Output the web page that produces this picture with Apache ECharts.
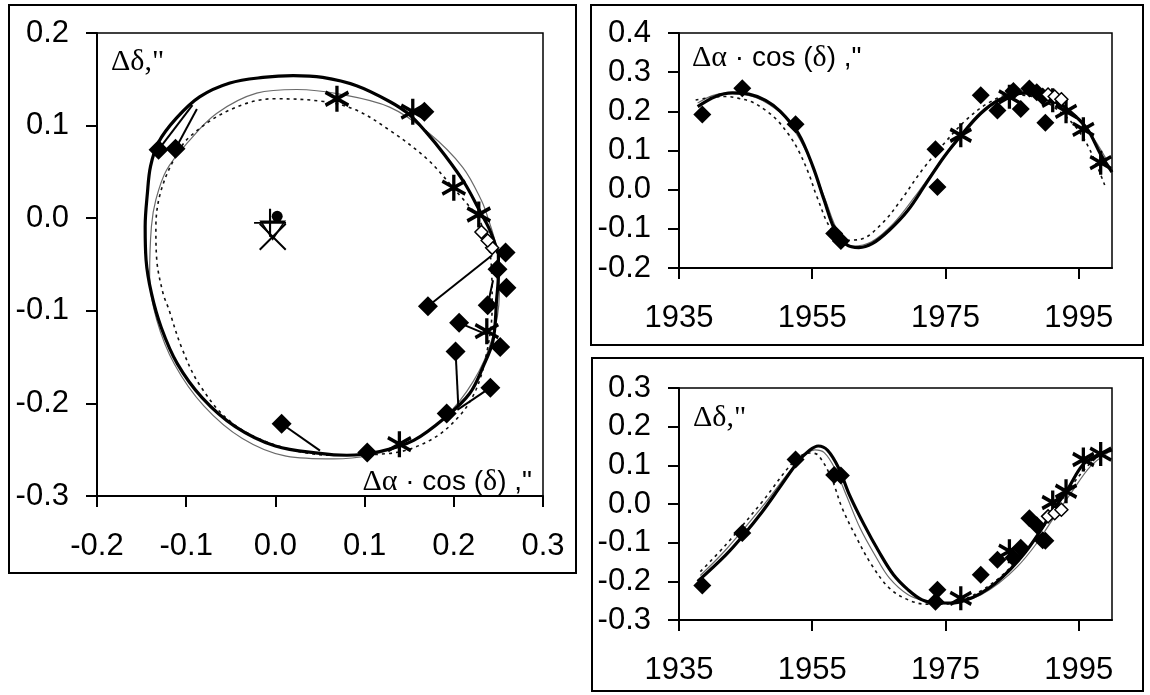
<!DOCTYPE html>
<html>
<head>
<meta charset="utf-8">
<script src="https://cdn.jsdelivr.net/npm/echarts@6/dist/echarts.min.js"></script>
<style>
  html, body { margin: 0; padding: 0; background: #fff; }
  #chart { width: 1150px; height: 695px; }
</style>
</head>
<body>
<div id="chart"></div>
<script>
// ---- Observations (epoch, Δα·cos δ, Δδ) in arcseconds ----
const obsYear = [1938.5, 1944.5, 1952.5, 1958.3, 1959.3, 1973.5, 1973.8, 1980.3, 1982.8, 1985.2, 1986.3, 1987.6, 1988.7, 1989.6, 1990.0];
const obsDA   = [0.192, 0.259, 0.167, -0.112, -0.131, 0.103, 0.007, 0.241, 0.202, 0.252, 0.206, 0.258, 0.249, 0.238, 0.171];
const obsDD   = [-0.211, -0.075, 0.115, 0.075, 0.074, -0.253, -0.222, -0.183, -0.144, -0.139, -0.113, -0.037, -0.055, -0.094, -0.095];
// ephemeris positions joined to the observations by O-C segments (null: none drawn)
const ephDA   = [null, null, null, -0.088, -0.093, null, 0.050, 0.204, 0.205, null, 0.238, null, null, 0.244, 0.243];
const ephDD   = [null, null, null, 0.118, 0.122, null, -0.251, -0.207, -0.202, null, -0.126, null, null, -0.067, -0.040];

// second observation set (asterisks)
const starYear = [1977.3, 1984.6, 1991.1, 1993.1, 1995.7, 1998.3];
const starDA   = [0.139, 0.237, 0.228, 0.200, 0.154, 0.069];
const starDD   = [-0.244, -0.122, 0.004, 0.033, 0.115, 0.129];

// third observation set (open diamonds)
const openYear = [1990.4, 1991.4, 1992.4];
const openDA   = [0.243, 0.238, 0.231];
const openDD   = [-0.032, -0.024, -0.015];

// markers at the origin of the relative orbit
const circleMark   = [0.002, 0.002];
const plusMark     = [-0.006, -0.005];
const triangleMark = [-0.003, -0.013];
const crossMark    = [-0.003, -0.020];

// ---- Apparent orbits (Δα·cos δ, Δδ) ----
const orbitThick = [[0.250,-0.038],[0.240,-0.012],[0.229,0.008],[0.212,0.038],[0.190,0.068],[0.168,0.094],[0.150,0.112],[0.128,0.126],[0.091,0.143],[0.053,0.152],[0.020,0.154],[-0.014,0.152],[-0.051,0.146],[-0.085,0.131],[-0.111,0.108],[-0.131,0.082],[-0.140,0.056],[-0.1435,0.027],[-0.146,-0.009],[-0.145,-0.045],[-0.139,-0.081],[-0.128,-0.118],[-0.110,-0.157],[-0.082,-0.194],[-0.045,-0.225],[0.000,-0.246],[0.050,-0.254],[0.080,-0.256],[0.117,-0.252],[0.155,-0.240],[0.192,-0.214],[0.218,-0.189],[0.233,-0.160],[0.244,-0.132],[0.248,-0.088],[0.250,-0.060],[0.250,-0.038]];
const orbitThin = [[0.239,-0.002],[0.231,0.019],[0.210,0.055],[0.172,0.092],[0.128,0.120],[0.072,0.134],[0.024,0.139],[-0.021,0.135],[-0.066,0.113],[-0.099,0.081],[-0.122,0.052],[-0.134,0.020],[-0.139,-0.009],[-0.141,-0.063],[-0.133,-0.110],[-0.113,-0.158],[-0.080,-0.203],[-0.037,-0.238],[0.012,-0.257],[0.065,-0.260],[0.106,-0.256],[0.148,-0.243],[0.189,-0.216],[0.222,-0.176],[0.243,-0.130],[0.251,-0.082],[0.249,-0.038],[0.239,-0.002]];
const orbitDotted = [[0.227,0.002],[0.201,0.031],[0.170,0.064],[0.128,0.095],[0.090,0.117],[0.054,0.126],[-0.002,0.129],[-0.051,0.117],[-0.096,0.088],[-0.114,0.063],[-0.129,0.027],[-0.134,-0.010],[-0.133,-0.045],[-0.126,-0.081],[-0.120,-0.097],[-0.105,-0.140],[-0.085,-0.180],[-0.050,-0.220],[0.000,-0.245],[0.065,-0.256],[0.128,-0.254],[0.173,-0.240],[0.205,-0.215],[0.225,-0.185],[0.238,-0.140],[0.243,-0.095],[0.242,-0.050],[0.236,-0.020],[0.227,0.002]];

// ---- Ephemerides against time ----
const daThick = [[1937.8,0.212],[1940.5,0.238],[1943,0.247],[1945.5,0.244],[1948,0.228],[1950.2,0.200],[1952.9,0.144],[1955.1,0.059],[1956.8,-0.027],[1958.4,-0.103],[1960.1,-0.140],[1962,-0.148],[1964,-0.138],[1966.6,-0.103],[1969.4,-0.052],[1972.1,0.016],[1974.8,0.084],[1977.6,0.144],[1980.3,0.195],[1983,0.229],[1985.8,0.245],[1988,0.247],[1990.7,0.235],[1993.4,0.204],[1996.2,0.157],[1998.3,0.090],[2000,0.045]];
const daThin = [[1937.8,0.221],[1940,0.240],[1942,0.246],[1944.5,0.243],[1946.4,0.236],[1948.5,0.218],[1950.8,0.187],[1954,0.101],[1956.8,-0.018],[1959,-0.112],[1961.1,-0.144],[1963.9,-0.133],[1967.2,-0.086],[1970.4,-0.018],[1973.7,0.059],[1977,0.127],[1980.3,0.191],[1983.6,0.236],[1986.9,0.251],[1990.1,0.242],[1993.4,0.204],[1996.7,0.144],[1999.2,0.076]];
const daDotted = [[1937.5,0.229],[1940,0.236],[1942,0.238],[1944,0.233],[1945.8,0.225],[1947.8,0.205],[1949.7,0.178],[1951.5,0.140],[1952.9,0.101],[1954.5,0.040],[1955.7,-0.018],[1957.9,-0.103],[1960.1,-0.129],[1962.2,-0.127],[1965.5,-0.086],[1968.3,-0.027],[1971.5,0.050],[1974.8,0.118],[1978.1,0.178],[1981.4,0.221],[1984.7,0.242],[1988,0.238],[1991.2,0.212],[1994.5,0.161],[1996.7,0.101],[1998.9,0.012]];

const ddThick = [[1937.8,-0.200],[1942,-0.132],[1944.7,-0.080],[1947.5,-0.020],[1950.2,0.045],[1952.9,0.110],[1954.6,0.139],[1955.9,0.150],[1957.3,0.139],[1959,0.092],[1960.6,0.023],[1962.8,-0.054],[1965,-0.123],[1967.2,-0.183],[1969.4,-0.222],[1971.5,-0.248],[1973.7,-0.256],[1975.9,-0.256],[1978.1,-0.248],[1980.3,-0.231],[1982.5,-0.205],[1984.7,-0.170],[1986.9,-0.127],[1989,-0.076],[1991.2,-0.016],[1993.4,0.040],[1995.6,0.101],[1997.8,0.126],[2000,0.140]];
const ddThin = [[1938.2,-0.185],[1942,-0.119],[1947.5,-0.007],[1952.9,0.110],[1955.4,0.140],[1956.8,0.133],[1958.4,0.092],[1960.1,0.023],[1962.2,-0.063],[1964.4,-0.132],[1966.6,-0.192],[1969.4,-0.235],[1972.1,-0.252],[1974.8,-0.258],[1977.6,-0.252],[1980.3,-0.235],[1983,-0.205],[1985.8,-0.162],[1988.5,-0.106],[1991.2,-0.037],[1994,0.032],[1996.7,0.096],[1999.4,0.133]];
const ddDotted = [[1938.2,-0.175],[1942,-0.106],[1947.5,0.006],[1952.4,0.113],[1954.6,0.132],[1955.9,0.126],[1957.9,0.066],[1959.5,-0.011],[1961.7,-0.089],[1963.9,-0.157],[1966.6,-0.218],[1969.4,-0.248],[1972.1,-0.259],[1974.8,-0.259],[1977.6,-0.248],[1980.3,-0.225],[1983,-0.192],[1985.8,-0.145],[1988.5,-0.089],[1991.2,-0.020],[1994,0.049],[1996.7,0.105],[1998.9,0.135]];

// axis tick labels
const yearTicks = [1935, 1955, 1975, 1995];

// ---- Styling ----
const SANS = "'Liberation Sans', Arial, sans-serif";
const SERIF = "'Liberation Serif', 'Times New Roman', serif";
const STAR_PATH = 'path://M0,-1L0,1M-0.866,-0.5L0.866,0.5M-0.866,0.5L0.866,-0.5';
const PLUS_PATH = 'path://M-1,0L1,0M0,-1L0,1';
const CROSS_PATH = 'path://M-1,-1L1,1M-1,1L1,-1';
const STROKE_ONLY = { color: 'rgba(0,0,0,0)', borderColor: '#000', opacity: 1 };

function fmt1(v) { return Math.abs(v) < 1e-9 ? '0.0' : v.toFixed(1); }

function valueAxis(gridIndex, min, max, interval, margin) {
  return {
    type: 'value', gridIndex, min, max, interval,
    axisLine: { show: true, onZero: false, lineStyle: { color: '#000', width: 2 } },
    axisTick: { show: true, inside: false, length: 11, lineStyle: { color: '#000', width: 2 } },
    axisLabel: { color: '#000', fontFamily: SANS, fontSize: 31, margin, formatter: fmt1 },
    splitLine: { show: false }
  };
}
function yearAxis(gridIndex) {
  return {
    type: 'value', gridIndex, min: 1935, max: 2000,
    axisLine: { show: true, onZero: false, lineStyle: { color: '#000', width: 2 } },
    axisTick: { show: true, inside: false, length: 11, customValues: yearTicks, lineStyle: { color: '#000', width: 2 } },
    axisLabel: { color: '#000', fontFamily: SANS, fontSize: 31, margin: 35, customValues: yearTicks, formatter: v => String(v) },
    splitLine: { show: false }
  };
}

function curve(data, axis, kind) {
  const styles = {
    thick:  { color: '#000', width: 3.2, type: 'solid' },
    thin:   { color: '#6a6a6a', width: 1.2, type: 'solid' },
    dotted: { color: '#111', width: 1.6, type: [3, 4] }
  };
  return {
    type: 'line', xAxisIndex: axis, yAxisIndex: axis, data,
    showSymbol: false, symbol: 'none', smooth: 0.35, silent: true,
    lineStyle: styles[kind], z: kind === 'thick' ? 3 : 2
  };
}
function scatter(data, axis, kind) {
  const base = { type: 'scatter', xAxisIndex: axis, yAxisIndex: axis, data, silent: true, z: 5 };
  if (kind === 'diamond') {
    return Object.assign(base, { symbol: 'diamond', symbolSize: axis === 0 ? 20 : 18,
      itemStyle: { color: '#000', opacity: 1 } });
  }
  if (kind === 'star') {
    return Object.assign(base, { symbol: STAR_PATH, symbolSize: axis === 0 ? [23, 26] : [21, 24],
      itemStyle: Object.assign({ borderWidth: 3.5 }, STROKE_ONLY) });
  }
  return Object.assign(base, { symbol: 'diamond', symbolSize: 13,
    itemStyle: { color: '#fff', borderColor: '#000', borderWidth: 1.5, opacity: 1 } });
}
function originMark(point, symbol, size, extra) {
  return Object.assign({ type: 'scatter', xAxisIndex: 0, yAxisIndex: 0, data: [point], symbol,
    symbolSize: size, silent: true, z: 6 }, extra);
}

// observation sets projected on each panel
const pairs = (xs, ys) => xs.map((x, i) => [x, ys[i]]);
const residuals = [];
obsDA.forEach((x, i) => {
  if (ephDA[i] !== null) residuals.push({ coords: [[x, obsDD[i]], [ephDA[i], ephDD[i]]] });
});

const series = [
  // relative orbit panel
  curve(orbitThin, 0, 'thin'),
  curve(orbitDotted, 0, 'dotted'),
  curve(orbitThick, 0, 'thick'),
  { type: 'lines', coordinateSystem: 'cartesian2d', xAxisIndex: 0, yAxisIndex: 0, data: residuals,
    silent: true, z: 4, lineStyle: { color: '#000', width: 2, opacity: 1 } },
  scatter(pairs(obsDA, obsDD), 0, 'diamond'),
  scatter(pairs(starDA, starDD), 0, 'star'),
  scatter(pairs(openDA, openDD), 0, 'open'),
  originMark(circleMark, 'circle', 11, { itemStyle: { color: '#000', opacity: 1 } }),
  originMark(plusMark, PLUS_PATH, [32, 28], { itemStyle: Object.assign({ borderWidth: 2 }, STROKE_ONLY) }),
  originMark(triangleMark, 'triangle', [24, 18], { symbolRotate: 180,
    itemStyle: Object.assign({ borderWidth: 1.5 }, STROKE_ONLY) }),
  originMark(crossMark, CROSS_PATH, 26, { itemStyle: Object.assign({ borderWidth: 2 }, STROKE_ONLY) }),

  // Δα·cos δ against time
  curve(daThin, 1, 'thin'),
  curve(daDotted, 1, 'dotted'),
  curve(daThick, 1, 'thick'),
  scatter(pairs(obsYear, obsDA), 1, 'diamond'),
  scatter(pairs(starYear, starDA), 1, 'star'),
  scatter(pairs(openYear, openDA), 1, 'open'),

  // Δδ against time
  curve(ddThin, 2, 'thin'),
  curve(ddDotted, 2, 'dotted'),
  curve(ddThick, 2, 'thick'),
  scatter(pairs(obsYear, obsDD), 2, 'diamond'),
  scatter(pairs(starYear, starDD), 2, 'star'),
  scatter(pairs(openYear, openDD), 2, 'open')
];

// axis captions (mixed serif Greek and sans Latin)
const richCaption = {
  g: { fontFamily: SERIF, fontSize: 30, fill: '#000' },
  s: { fontFamily: SANS, fontSize: 28, fill: '#000' }
};
const alphaText = '{g|Δα}{s| · cos (}{g|δ}{s|) ,"}';
const deltaText = '{g|Δδ,"}';

const frame = (x, y, w, h) => ({ type: 'rect', silent: true, z: 0,
  shape: { x, y, width: w, height: h }, style: { fill: 'none', stroke: '#000', lineWidth: 2 } });
const caption = (x, y, text, align) => ({ type: 'text', silent: true, z: 10, x, y,
  style: { text, rich: richCaption, fill: '#000', align, verticalAlign: 'middle' } });

const chart = echarts.init(document.getElementById('chart'), null, { renderer: 'canvas' });
chart.setOption({
  animation: false,
  backgroundColor: '#fff',
  grid: [
    { left: 97, top: 33, width: 446, height: 463, show: true, borderColor: '#000', borderWidth: 1.5, backgroundColor: 'rgba(0,0,0,0)' },
    { left: 679, top: 33, width: 433, height: 235, show: true, borderColor: '#000', borderWidth: 1.5, backgroundColor: 'rgba(0,0,0,0)' },
    { left: 679, top: 388, width: 433, height: 232, show: true, borderColor: '#000', borderWidth: 1.5, backgroundColor: 'rgba(0,0,0,0)' }
  ],
  xAxis: [
    valueAxis(0, -0.2, 0.3, 0.1, 35),
    yearAxis(1),
    yearAxis(2)
  ],
  yAxis: [
    valueAxis(0, -0.3, 0.2, 0.1, 28),
    valueAxis(1, -0.2, 0.4, 0.1, 28),
    valueAxis(2, -0.3, 0.3, 0.1, 28)
  ],
  graphic: [
    frame(9, 5, 567, 568),
    frame(591, 5, 552, 340),
    frame(592, 358, 551, 333),
    caption(111, 62, deltaText, 'left'),
    caption(532, 482, alphaText, 'right'),
    caption(692, 58, alphaText, 'left'),
    caption(693, 418, deltaText, 'left')
  ],
  series
});
</script>
</body>
</html>
